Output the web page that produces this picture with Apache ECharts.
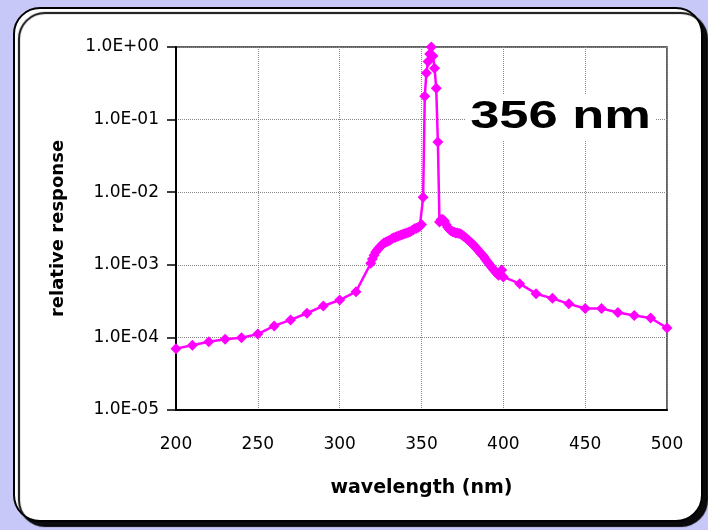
<!DOCTYPE html>
<html><head><meta charset="utf-8">
<script src="https://cdn.jsdelivr.net/npm/echarts@6/dist/echarts.min.js"></script>
<style>html,body{margin:0;padding:0;background:#c8c8f8;}#c{width:708px;height:530px;}</style>
</head><body><div id="c"></div>
<script>
var wavelengths = [200,210,220,230,240,250,260,270,280,290,300,310,319,
 320,321,322,323,324,325,326,327,328,329,330,331,332,333,334,335,336,337,338,339,340,341,342,343,344,345,346,347,348,349,350,
 351,352,353,354,355,356,357,358,359,360,
 361,362,363,364,365,366,367,368,369,370,371,372,373,374,375,376,377,378,379,380,381,382,383,384,385,386,387,388,389,390,391,392,393,394,395,396,397,398,399,400,
 410,420,430,440,450,460,470,480,490,500];
var response = [7.0e-5,7.8e-5,8.7e-5,9.4e-5,9.9e-5,1.11e-4,1.44e-4,1.74e-4,2.15e-4,2.71e-4,3.27e-4,4.27e-4,1.05e-3,
 1.2e-3,1.35e-3,1.5e-3,1.6e-3,1.7e-3,1.8e-3,1.9e-3,2.0e-3,2.05e-3,2.1e-3,2.15e-3,2.2e-3,2.3e-3,2.35e-3,2.4e-3,2.45e-3,2.5e-3,2.55e-3,2.6e-3,2.65e-3,2.7e-3,2.75e-3,2.8e-3,2.85e-3,2.95e-3,3.05e-3,3.15e-3,3.2e-3,3.3e-3,3.4e-3,3.6e-3,
 8.5e-3,0.21,0.44,0.63,0.8,1.0,0.75,0.51,0.27,0.049,
 3.9e-3,4.2e-3,4.2e-3,4.0e-3,3.6e-3,3.3e-3,3.1e-3,2.95e-3,2.85e-3,2.8e-3,2.75e-3,2.75e-3,2.7e-3,2.65e-3,2.55e-3,2.45e-3,2.35e-3,2.25e-3,2.15e-3,2.05e-3,1.95e-3,1.85e-3,1.75e-3,1.65e-3,1.55e-3,1.45e-3,1.38e-3,1.3e-3,1.2e-3,1.12e-3,1.05e-3,9.8e-4,9.2e-4,8.6e-4,8.1e-4,7.6e-4,7.2e-4,7.5e-4,8.5e-4,6.8e-4,
 5.5e-4,4.0e-4,3.45e-4,2.9e-4,2.5e-4,2.5e-4,2.2e-4,2.0e-4,1.85e-4,1.35e-4];
var xTicks = [200,250,300,350,400,450,500];
var yTickLabels = ['1.0E-05','1.0E-04','1.0E-03','1.0E-02','1.0E-01','1.0E+00'];
var peakLabel = '356 nm';
var xTitle = 'wavelength (nm)';
var yTitle = 'relative response';

var data = wavelengths.map(function(w,i){return [w,response[i]];});
function fmtY(v){
  var e = Math.round(Math.log10(v));
  return yTickLabels[e+5] || '';
}
var FONT = '"DejaVu Sans", Arial, sans-serif';
var chart = echarts.init(document.getElementById('c'), null, {renderer:'canvas'});
chart.setOption({
  animation:false,
  backgroundColor:'transparent',
  graphic:[
    {type:'rect', z:-10, shape:{x:14,y:8,width:688,height:513,r:26},
     style:{fill:'#ffffff',stroke:'#000',lineWidth:2,shadowColor:'rgba(0,0,0,0.95)',shadowOffsetX:5,shadowOffsetY:5,shadowBlur:1}},
    {type:'text', z:10, x:466, y:95, scaleX:1.38, scaleY:1,
     style:{text:peakLabel, font:'bold 38px "Liberation Sans", Arial, sans-serif', fill:'#000', backgroundColor:'#fff', padding:[4,3]}}
  ],
  grid:{left:176,right:41,top:47,bottom:120,show:true,borderColor:'#333',borderWidth:1.5},
  xAxis:{type:'value',min:200,max:500,interval:50,
    axisLine:{show:true,lineStyle:{color:'#000',width:2}},
    axisTick:{show:false},
    axisLabel:{color:'#000',fontSize:17,fontFamily:FONT,margin:26},
    splitLine:{show:true,lineStyle:{color:'#888',type:'dotted',width:1}},
    name:xTitle,nameLocation:'middle',nameGap:69,
    nameTextStyle:{color:'#000',fontSize:19,fontWeight:'bold',fontFamily:FONT}
  },
  yAxis:{type:'log',min:1e-5,max:1,logBase:10,
    axisLine:{show:true,lineStyle:{color:'#000',width:2}},
    axisTick:{show:true,inside:false,length:9,lineStyle:{color:'#000',width:1.5}},
    axisLabel:{color:'#000',fontSize:17,fontFamily:FONT,margin:17,formatter:fmtY},
    minorTick:{show:false},
    splitLine:{show:true,lineStyle:{color:'#888',type:'dotted',width:1}},
    name:yTitle,nameLocation:'middle',nameGap:109,
    nameTextStyle:{color:'#000',fontSize:18,fontWeight:'bold',fontFamily:FONT}
  },
  series:[{type:'line',data:data,symbol:'diamond',symbolSize:11,
    itemStyle:{color:'#ff00ff'},lineStyle:{color:'#ff00ff',width:2.5},clip:false}]
});
</script></body></html>
